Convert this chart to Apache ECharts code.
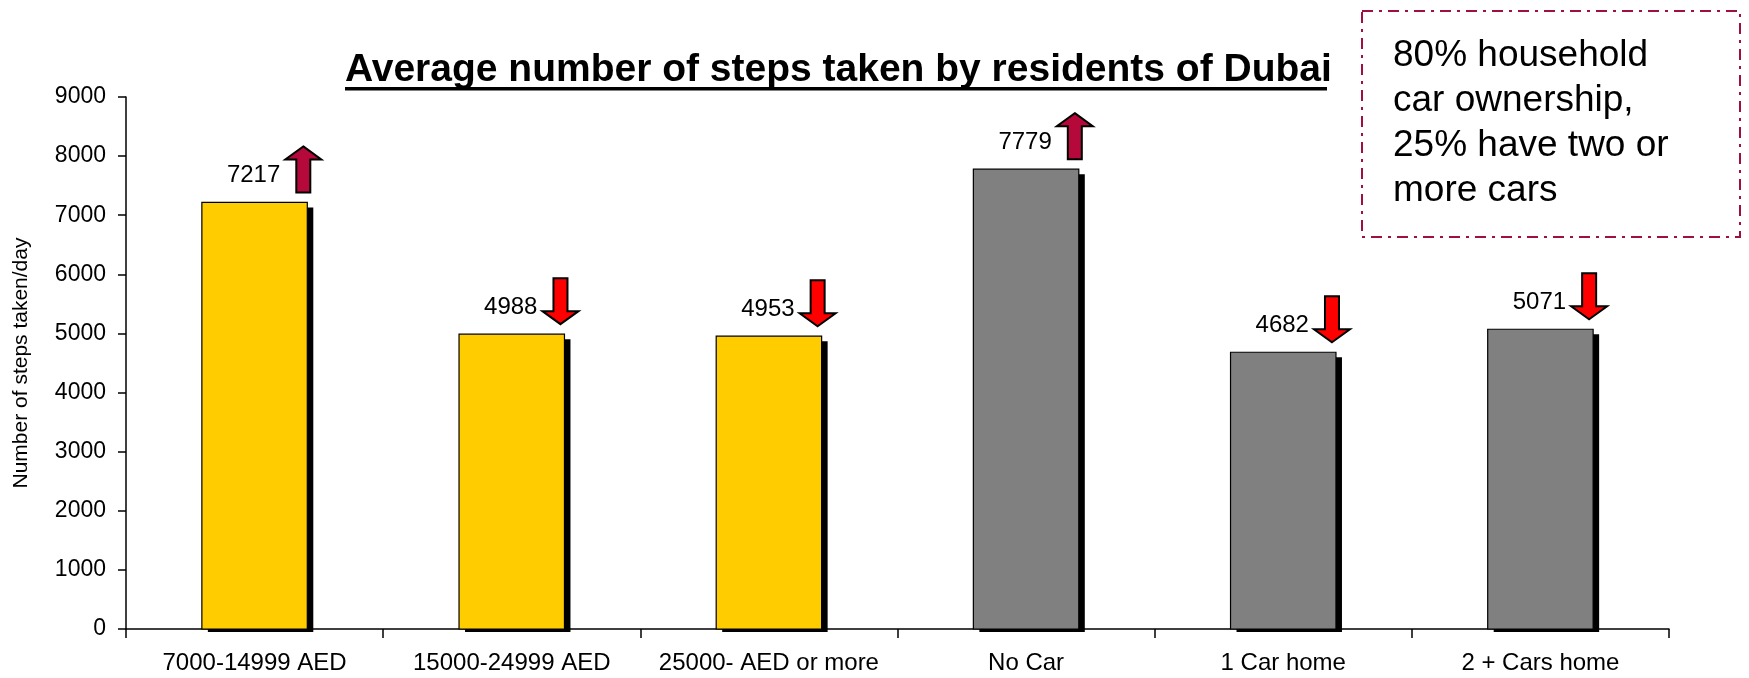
<!DOCTYPE html>
<html>
<head>
<meta charset="utf-8">
<title>Average number of steps taken by residents of Dubai</title>
<script src="https://cdn.jsdelivr.net/npm/echarts@6/dist/echarts.min.js"></script>
<style>
  html, body { margin: 0; padding: 0; background: #ffffff; }
  #chart { width: 1749px; height: 678px; }
</style>
</head>
<body>
<div id="chart"></div>
<script>
// Chart data
const categories = ['7000-14999 AED', '15000-24999 AED', '25000- AED or more', 'No Car', '1 Car home', '2 + Cars home'];
const steps = [7217, 4988, 4953, 7779, 4682, 5071];
const trend = ['up', 'down', 'down', 'up', 'down', 'down'];
const groups = ['income', 'income', 'income', 'car', 'car', 'car'];
const yTicks = { min: 0, max: 9000, interval: 1000 };

const titleText = 'Average number of steps taken by residents of Dubai';
const yAxisTitle = 'Number of steps taken/day';
const noteText = '80% household\ncar ownership,\n25% have two or\nmore cars';

const groupColor = { income: '#FFCC00', car: '#808080' };
const trendColor = { up: '#B5093B', down: '#FF0000' };
const FONT = '"Liberation Sans", Arial, Helvetica, sans-serif';

// Bar with a hard drop shadow, value label above, and a trend arrow beside the label
function renderBar(params, api) {
  const i = params.dataIndex;
  const v = api.value(1);
  const top = api.coord([api.value(0), v]);
  const base = api.coord([api.value(0), 0]);
  const band = api.size([1, 0])[0];
  const w = band * 0.41;
  const cx = top[0];
  const x0 = cx - w / 2;
  const h = base[1] - top[1];

  const ax = cx + w / 2 - 4;       // arrow centre
  const yTop = top[1] - 56;
  const yBot = top[1] - 10;
  const head = 13, half = 18, shaft = 7;
  let pts;
  if (trend[i] === 'up') {
    pts = [[ax, yTop], [ax + half, yTop + head], [ax + shaft, yTop + head], [ax + shaft, yBot],
           [ax - shaft, yBot], [ax - shaft, yTop + head], [ax - half, yTop + head]];
  } else {
    pts = [[ax, yBot], [ax + half, yBot - head], [ax + shaft, yBot - head], [ax + shaft, yTop],
           [ax - shaft, yTop], [ax - shaft, yBot - head], [ax - half, yBot - head]];
  }

  return {
    type: 'group',
    children: [
      { type: 'rect', shape: { x: x0 + 6, y: top[1] + 5, width: w, height: h - 2 },
        style: { fill: '#000000' }, z2: 1 },
      { type: 'rect', shape: { x: x0, y: top[1], width: w, height: h },
        style: { fill: groupColor[groups[i]], stroke: '#000000', lineWidth: 1.2 }, z2: 2 },
      { type: 'text', x: cx - 1, y: top[1] - 27,
        style: { text: String(v), fill: '#000000', font: '24px ' + FONT, align: 'center', verticalAlign: 'middle' }, z2: 3 },
      { type: 'polygon', shape: { points: pts },
        style: { fill: trendColor[trend[i]], stroke: '#000000', lineWidth: 2 }, z2: 3 }
    ]
  };
}

const chart = echarts.init(document.getElementById('chart'), null, { renderer: 'canvas' });

chart.setOption({
  backgroundColor: '#ffffff',
  animation: false,
  grid: { left: 126, right: 80, top: 97, bottom: 49, containLabel: false },
  xAxis: {
    type: 'category',
    data: categories,
    boundaryGap: true,
    axisLine: { lineStyle: { color: '#000000', width: 1.5 } },
    axisTick: { show: true, alignWithLabel: false, length: 9, lineStyle: { color: '#000000', width: 1.5 } },
    axisLabel: { color: '#000000', fontSize: 24, fontFamily: FONT, margin: 22, interval: 0 },
    splitLine: { show: false }
  },
  yAxis: {
    type: 'value',
    min: yTicks.min,
    max: yTicks.max,
    interval: yTicks.interval,
    name: yAxisTitle,
    nameLocation: 'middle',
    nameRotate: 90,
    nameGap: 94,
    nameTextStyle: { color: '#000000', fontSize: 21, fontFamily: FONT },
    axisLine: { show: true, lineStyle: { color: '#000000', width: 1.5 } },
    axisTick: { show: true, length: 8, lineStyle: { color: '#000000', width: 1.5 } },
    axisLabel: { color: '#000000', fontSize: 23, fontFamily: FONT, margin: 20, formatter: (val) => String(val) },
    splitLine: { show: false }
  },
  series: [{
    type: 'custom',
    renderItem: renderBar,
    clip: false,
    data: steps.map((v, i) => [i, v]),
    z: 3
  }],
  graphic: [
    { type: 'text', left: 345, top: 51,
      style: { text: titleText, font: 'bold 39px ' + FONT, fill: '#000000' } },
    { type: 'rect', shape: { x: 345, y: 87, width: 982, height: 3.5 }, style: { fill: '#000000' } },
    { type: 'rect', shape: { x: 1362, y: 11, width: 378, height: 226 },
      style: { fill: 'rgba(0,0,0,0)', stroke: '#A0103E', lineWidth: 2, lineDash: [11, 6, 3, 6] } },
    { type: 'text', left: 1393, top: 33,
      style: { text: noteText, font: '37px ' + FONT, lineHeight: 45, fill: '#000000' } }
  ]
});
</script>
</body>
</html>
